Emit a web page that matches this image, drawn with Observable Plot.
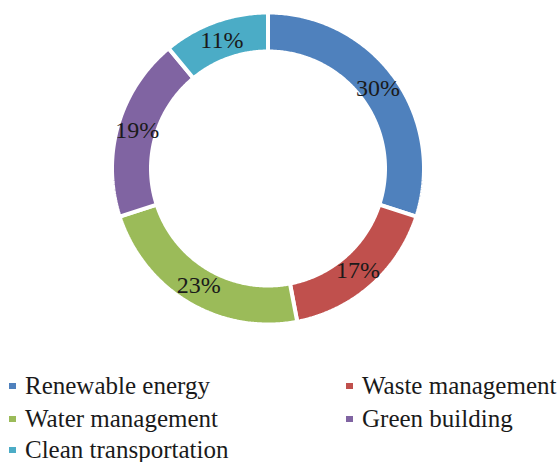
<!DOCTYPE html>
<html>
<head>
<meta charset="utf-8">
<script src="https://cdn.jsdelivr.net/npm/d3@7"></script>
<script src="https://cdn.jsdelivr.net/npm/@observablehq/plot@0.6"></script>
<style>
  html, body { margin: 0; padding: 0; background: #fff; }
  body { width: 559px; height: 462px; overflow: hidden; font-family: "Liberation Serif", "Times New Roman", serif; }
  #legend { position: relative; height: 102px; }
  .item { position: absolute; display: flex; align-items: center; font-size: 25px; color: #1a1a1a; height: 26px; line-height: 26px; white-space: nowrap; }
  .sw { width: 6.5px; height: 6.5px; margin-right: 9.5px; flex: none; }
</style>
</head>
<body>
<div id="chart"></div>
<div id="legend"></div>
<script>
const categories = ["Renewable energy", "Waste management", "Water management", "Green building", "Clean transportation"];
const values = [30, 17, 23, 19, 11];
const colors = ["#4F81BD", "#C0504D", "#9BBB59", "#8064A2", "#4BACC6"];
const labels = ["30%", "17%", "23%", "19%", "11%"];

const total = d3.sum(values);
const outerR = 1, innerR = 0.75, labelR = 0.872;
const polys = [];
const texts = [];
let acc = 0;
categories.forEach((name, i) => {
  const a0 = acc / total * 2 * Math.PI;
  acc += values[i];
  const a1 = acc / total * 2 * Math.PI;
  const n = Math.max(8, Math.ceil((a1 - a0) / 0.01));
  for (let k = 0; k <= n; k++) {
    const a = a0 + (a1 - a0) * k / n;
    polys.push({name, x: outerR * Math.sin(a), y: outerR * Math.cos(a)});
  }
  for (let k = n; k >= 0; k--) {
    const a = a0 + (a1 - a0) * k / n;
    polys.push({name, x: innerR * Math.sin(a), y: innerR * Math.cos(a)});
  }
  const am = (a0 + a1) / 2;
  texts.push({label: labels[i], x: labelR * Math.sin(am), y: labelR * Math.cos(am)});
});

const cx = 267.5, cy = 168, R = 156;
const chart = Plot.plot({
  width: 559,
  height: 360,
  margin: 0,
  x: {domain: [-1, 1], range: [cx - R, cx + R], axis: null},
  y: {domain: [-1, 1], range: [cy + R, cy - R], axis: null},
  color: {domain: categories, range: colors},
  style: {fontFamily: "Liberation Serif, Times New Roman, serif", background: "#fff"},
  marks: [
    Plot.line(polys, {x: "x", y: "y", z: "name", fill: "name", stroke: "white", strokeWidth: 4, curve: "linear-closed", strokeLinejoin: "miter"}),
    Plot.text(texts, {x: "x", y: "y", text: "label", fontSize: 24, fill: "#1a1a1a"})
  ]
});
document.getElementById("chart").appendChild(chart);

const legend = document.getElementById("legend");
const pos = [[9, 13], [346, 13], [9, 46], [346, 46], [9, 77]];
categories.forEach((name, i) => {
  const it = document.createElement("div");
  it.className = "item";
  it.style.left = pos[i][0] + "px";
  it.style.top = pos[i][1] + "px";
  const sw = document.createElement("span");
  sw.className = "sw";
  sw.style.background = colors[i];
  it.appendChild(sw);
  const t = document.createElement("span");
  t.textContent = name;
  it.appendChild(t);
  legend.appendChild(it);
});
</script>
</body>
</html>
